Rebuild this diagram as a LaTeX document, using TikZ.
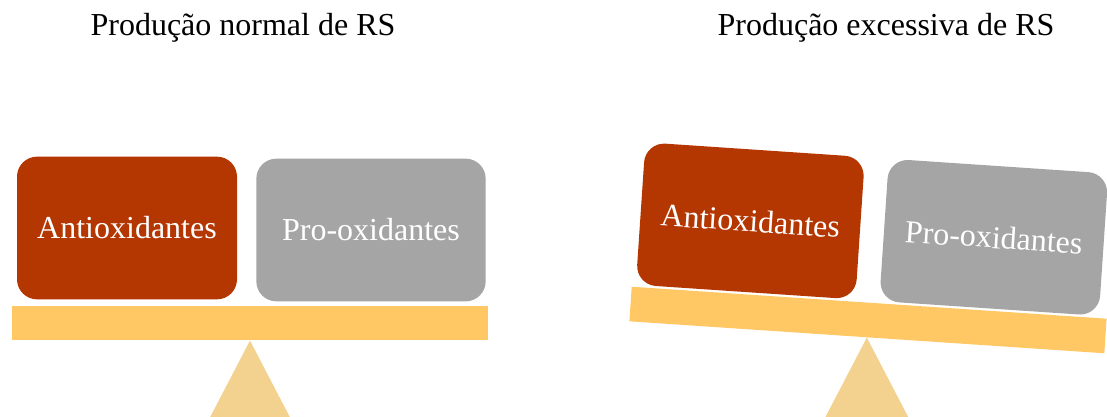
\documentclass[tikz,border=0pt]{standalone}
\usepackage{fontspec}
\setmainfont{Liberation Serif}
\definecolor{tijolo}{HTML}{B43600}
\definecolor{cinza}{HTML}{A5A5A5}
\definecolor{amarelo}{HTML}{FFC864}
\definecolor{areia}{HTML}{F3D18F}
\tikzset{
    caixa/.style={rounded corners=15pt, minimum width=165pt, minimum height=107pt,
        inner sep=0pt, text=white, font=\fontsize{24}{28}\selectfont},
    prato/.style={fill=amarelo, minimum width=357pt, minimum height=26pt, inner sep=0pt},
    apoio/.style={fill=areia},
    titulo/.style={font=\fontsize{24}{28}\selectfont, anchor=base}
}
\newcommand{\balanca}[3]{
    % prato
    \node[prato] (#1-prato) at (0,0) {};
    % caixas
    \node[caixa, fill=tijolo, #2] (#1-anti) at (-123,-95) {Antioxidantes};
    \node[caixa, fill=cinza, #3] (#1-pro) at (121,-93) {Pro-oxidantes};
}

\begin{document}
\begin{tikzpicture}[x=0.75pt, y=-0.75pt]
    \path[use as bounding box, clip] (0,0) rectangle (1107,417);

    % titulos
    \node[titulo] (titulo-normal) at (243,36) {Produção normal de RS};
    \node[titulo] (titulo-excessiva) at (886,36) {Produção excessiva de RS};

    % balanca equilibrada
    \begin{scope}[shift={(250,323)}] \balanca{esq}{}{minimum width=172pt} \end{scope}
    % balanca inclinada
    \begin{scope}[shift={(868,320)}, rotate=-3.85, transform shape]
        \balanca{dir}{xshift=-0.75pt, yshift=-3pt}{xshift=-0.75pt, yshift=-1.5pt}
    \end{scope}

    % apoios
    \fill[apoio] (esq-prato.south) -- ++(-50,96) -- ++(100,0) -- cycle;
    \fill[apoio] (dir-prato.south) -- ++(-50,96) -- ++(100,0) -- cycle;
\end{tikzpicture}
\end{document}
